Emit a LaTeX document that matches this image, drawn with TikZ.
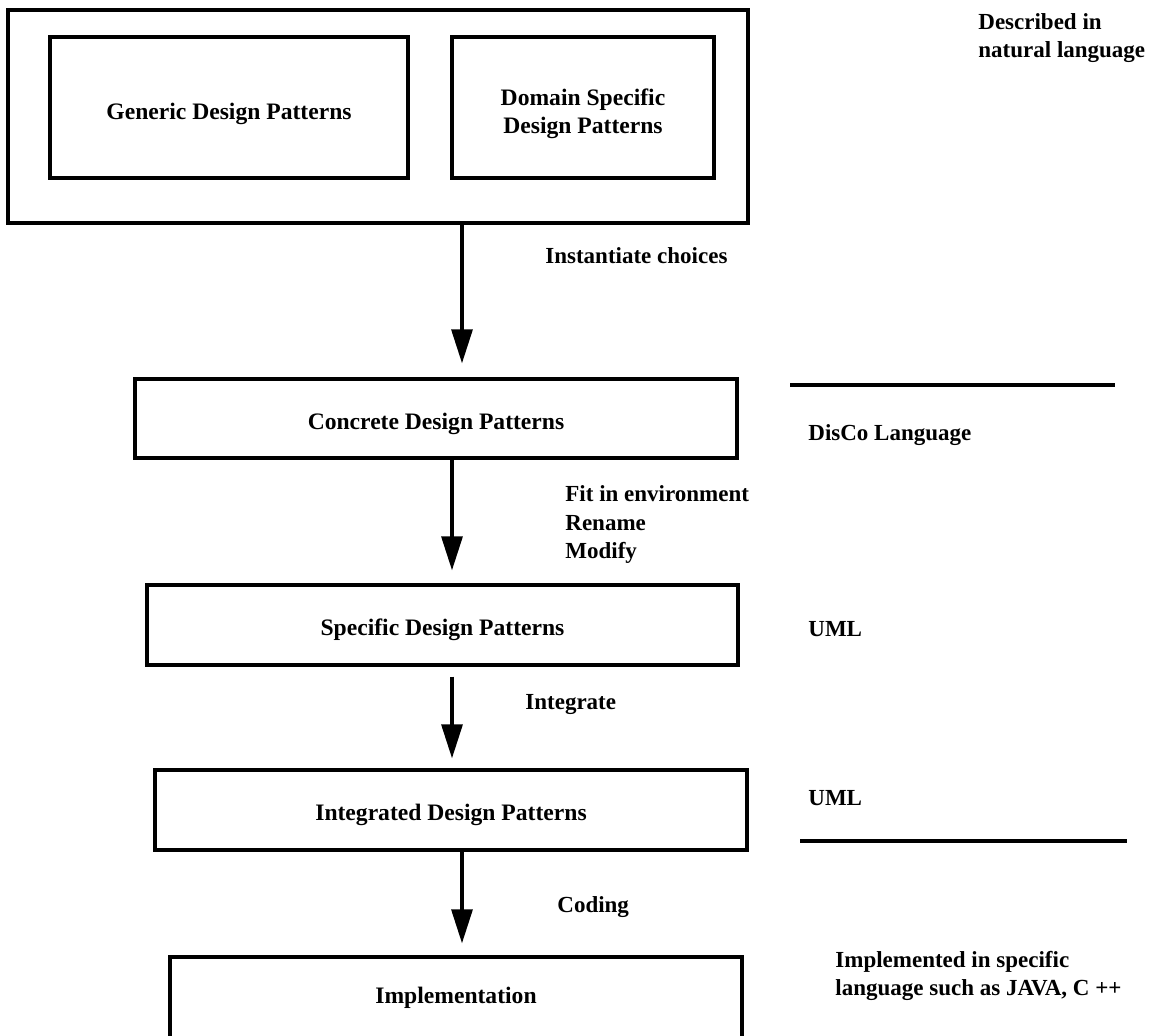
\documentclass[tikz,border=0pt]{standalone}
\usepackage{fontspec}
\setmainfont{Liberation Serif}
\usetikzlibrary{arrows.meta}
\begin{document}
\begin{tikzpicture}[x=0.5pt,y=-0.5pt,
  box/.style={draw, line width=1.7pt, inner sep=0pt},
  txt/.style={inner sep=0pt, font=\bfseries\fontsize{11.8}{14}\selectfont, align=center},
  lbl/.style={anchor=west, inner sep=0pt, font=\bfseries\fontsize{11.5}{14.2}\selectfont, align=left},
  arr/.style={line width=1.6pt, -{Triangle[width=10.5pt,length=17pt]}},
  rulel/.style={line width=1.7pt}]
\useasboundingbox (0,0) rectangle (1156,1035);
\clip (0,0) rectangle (1156,1035);
% boxes
\node[box, minimum width=370pt, minimum height=106.5pt] (outer) at (378,116.5) {};
\node[box, minimum width=179pt, minimum height=70.5pt,
  label={[txt,yshift=-3pt]center:Generic Design Patterns}] (gen) at (229,107.5) {};
\node[box, minimum width=131pt, minimum height=70.5pt,
  label={[txt,yshift=-3pt]center:Domain Specific\\Design Patterns}] (dom) at (583,107.5) {};
\node[box, minimum width=301pt, minimum height=39.5pt,
  label={[txt,yshift=-2.5pt]center:Concrete Design Patterns}] (conc) at (436,418.5) {};
\node[box, minimum width=295.5pt, minimum height=40pt,
  label={[txt,yshift=-2.5pt]center:Specific Design Patterns}] (spec) at (442.5,625) {};
\node[box, minimum width=296pt, minimum height=40pt,
  label={[txt,yshift=-2.5pt]center:Integrated Design Patterns}] (integ) at (451,810) {};
\node[box, minimum width=286pt, minimum height=59pt] (impl) at (456,1016) {};
\node[txt] (implt) at (456,998) {Implementation};
% arrow columns
\coordinate (c1) at (462,0);
\coordinate (c2) at (452,0);
\draw[arr, shorten >=7pt] (outer.south -| c1) -- (conc.north -| c1);
\draw[arr, shorten >=6.5pt] (conc.south -| c2) -- (spec.north -| c2);
\draw[arr, shorten <=5pt, shorten >=5pt] (spec.south -| c2) -- (integ.north -| c2);
\draw[arr, shorten >=6pt] (integ.south -| c1) -- (impl.north -| c1);
% separator rules
\coordinate (r1a) at (790,385); \coordinate (r1b) at (1115,385);
\coordinate (r2a) at (800,841); \coordinate (r2b) at (1127,841);
\draw[rulel] (r1a) -- (r1b);
\draw[rulel] (r2a) -- (r2b);
% labels
\node[lbl] (l1) at (978,38) {Described in\\natural language};
\node[lbl] (l2) at (545,256) {Instantiate choices};
\node[lbl] (l3) at (808,435) {DisCo Language};
\node[lbl] (l4) at (565,524.5) {Fit in environment\\Rename\\Modify};
\node[lbl] (l5) at (808,629) {UML};
\node[lbl] (l6) at (525,704) {Integrate};
\node[lbl] (l7) at (808,798) {UML};
\node[lbl] (l8) at (557,907) {Coding};
\node[lbl] (l9) at (835,976) {Implemented in specific\\language such as JAVA, C ++};
\end{tikzpicture}
\end{document}
